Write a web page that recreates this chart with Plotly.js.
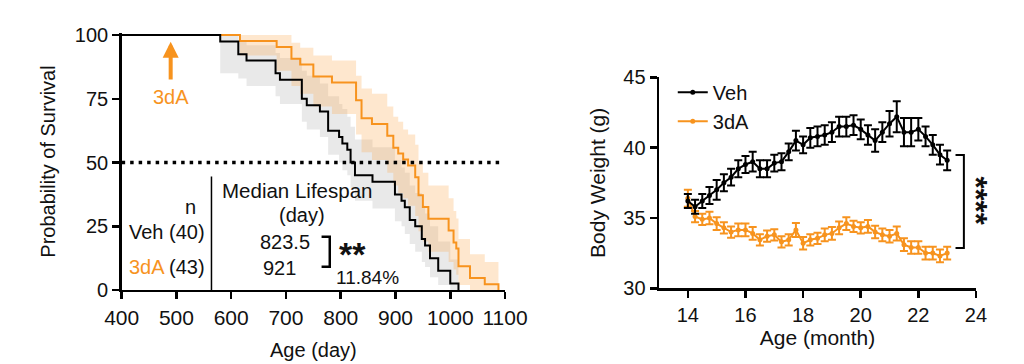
<!DOCTYPE html>
<html>
<head>
<meta charset="utf-8">
<script src="https://cdn.plot.ly/plotly-3.0.1.min.js"></script>
<style>
html,body{margin:0;padding:0;background:#fff;}
#chart{width:1024px;height:364px;}
</style>
</head>
<body>
<div id="chart"></div>
<script>
// ---------- Survival (left panel) ----------
const vehDays = [400,580,613,628,681,689,729,738,762,777,797,803,812,818,826,858,899,911,917,926,936,948,954,963,978,1000,1015];
const vehSurv = [100,97.5,92.5,90,85,82.5,75,72.5,70,62.5,60,57.5,55,50,45,42.5,37.5,35,32.5,27.5,25,20,17.5,12.5,7.5,2.5,0];
const vehLow  = [100,85,83,80,76,73,66,63,60,53,50,47,45,40,35,32,27,25,22,18,15,11,9,5,2,0,0];
const vehHigh = [100,100,98,96,93,91,86,84,81,76,73,71,68,64,59,56,51,48,46,41,38,33,30,25,19,12,0];

const adaDays = [400,616,683,710,726,750,784,828,838,857,885,896,905,914,923,936,942,950,960,997,1006,1011,1015,1036,1063,1088];
const adaSurv = [100,97.7,95.3,90.7,88.4,83.7,81.4,74.4,67.4,65.1,60.5,55.8,53.5,51.2,48.8,44.2,37.2,32.6,27.9,23.3,18.6,16.3,9.3,4.7,2.3,0];
const adaLow  = [100,92,86,80,77,72,69,61,54,51,46,41,38,36,33,29,23,19,15,11,8,6,2,0,0,0];
const adaHigh = [100,100,100,97,95,92,90,84,79,77,72,68,66,63,61,57,50,46,41,36,31,28,20,14,11,0];

const survTicks = [0,25,50,75,100];
const dayTicks = [400,500,600,700,800,900,1000,1100];

// ---------- Body weight (right panel) ----------
const months = [14,14.25,14.5,14.75,15,15.25,15.5,15.75,16,16.25,16.5,16.75,17,17.25,17.5,17.75,18,18.25,18.5,18.75,19,19.25,19.5,19.75,20,20.25,20.5,20.75,21,21.25,21.5,21.75,22,22.25,22.5,22.75,23];
const vehWeight = [36.2,35.8,36.2,36.6,37.0,37.5,37.9,38.5,38.8,39.0,38.5,38.5,38.9,39.0,39.7,40.5,40.2,40.7,40.8,40.9,41.1,41.5,41.5,41.6,41.3,40.9,40.5,41.1,41.7,42.2,41.1,41.1,41.3,40.8,40.2,39.5,39.1];
const vehErr = [0.5,0.5,0.5,0.6,0.7,0.6,0.6,0.6,0.6,0.7,0.6,0.6,0.6,0.6,0.6,0.7,0.6,0.7,0.7,0.7,0.7,0.7,0.7,0.7,0.7,0.7,0.8,0.7,0.9,1.1,1.0,1.0,0.8,0.7,0.7,0.7,0.7];
const adaWeight = [36.4,35.1,34.9,35.0,34.6,34.3,34.0,34.15,34.15,33.9,33.45,33.7,33.8,33.3,33.45,34.15,33.2,33.45,33.55,33.8,33.9,34.3,34.6,34.4,34.3,34.4,34.0,33.8,33.7,33.9,33.1,32.9,32.9,32.5,32.5,32.3,32.5];
const adaErr = [0.6,0.4,0.4,0.45,0.45,0.4,0.4,0.45,0.45,0.45,0.4,0.4,0.4,0.4,0.4,0.5,0.45,0.4,0.4,0.45,0.45,0.45,0.45,0.4,0.4,0.45,0.45,0.45,0.45,0.5,0.45,0.45,0.45,0.45,0.45,0.45,0.45];

const weightTicks = [30,35,40,45];
const monthTicks = [14,16,18,20,22,24];

const ORANGE = '#F7931E';
const FONT = 'Liberation Sans, Arial, Helvetica, sans-serif';
const INK = '#111';

const traces = [
  {x: vehDays, y: vehLow, xaxis:'x', yaxis:'y', mode:'lines', line:{shape:'hv', width:0}, showlegend:false, hoverinfo:'skip'},
  {x: vehDays, y: vehHigh, xaxis:'x', yaxis:'y', mode:'lines', line:{shape:'hv', width:0}, fill:'tonexty', fillcolor:'rgba(120,120,120,0.16)', showlegend:false, hoverinfo:'skip'},
  {x: adaDays, y: adaLow, xaxis:'x', yaxis:'y', mode:'lines', line:{shape:'hv', width:0}, showlegend:false, hoverinfo:'skip'},
  {x: adaDays, y: adaHigh, xaxis:'x', yaxis:'y', mode:'lines', line:{shape:'hv', width:0}, fill:'tonexty', fillcolor:'rgba(250,170,80,0.28)', showlegend:false, hoverinfo:'skip'},
  {x: adaDays, y: adaSurv, xaxis:'x', yaxis:'y', mode:'lines', name:'3dA', line:{shape:'hv', width:2, color:ORANGE}, showlegend:false},
  {x: vehDays, y: vehSurv, xaxis:'x', yaxis:'y', mode:'lines', name:'Veh', line:{shape:'hv', width:2, color:'#000'}, showlegend:false},
  {x: months, y: adaWeight, xaxis:'x2', yaxis:'y2', mode:'lines+markers', name:'3dA',
   line:{color:ORANGE, width:2}, marker:{color:ORANGE, size:5},
   error_y:{type:'data', array:adaErr, visible:true, color:ORANGE, thickness:2, width:4}},
  {x: months, y: vehWeight, xaxis:'x2', yaxis:'y2', mode:'lines+markers', name:'Veh',
   line:{color:'#000', width:2}, marker:{color:'#000', size:5},
   error_y:{type:'data', array:vehErr, visible:true, color:'#000', thickness:2, width:4}}
];

const axisCommon = {
  showgrid:false, zeroline:false, showline:true, linecolor:'#000', linewidth:2.5,
  ticks:'outside', ticklen:7, tickwidth:2.5, tickcolor:'#000',
  tickfont:{family:FONT, size:20, color:INK}, automargin:false, fixedrange:true
};

const layout = {
  width:1024, height:364,
  margin:{l:0, r:0, t:0, b:0},
  paper_bgcolor:'#fff', plot_bgcolor:'rgba(0,0,0,0)',
  font:{family:FONT, color:INK},
  showlegend:true,
  legend:{x:0.657, y:0.80, xanchor:'left', yanchor:'top', bgcolor:'rgba(0,0,0,0)', traceorder:'reversed',
          font:{family:FONT, size:20, color:INK}, itemwidth:30, tracegroupgap:0},
  xaxis: Object.assign({}, axisCommon, {domain:[0.1188,0.4932], range:[400,1100], tickvals:dayTicks, anchor:'y',
          tickfont:{family:FONT, size:21, color:INK},
          title:{text:'Age (day)', font:{family:FONT, size:20, color:INK}, standoff:16}}),
  yaxis: Object.assign({}, axisCommon, {domain:[0.2033,0.9093], range:[0,100.8], tickvals:survTicks, anchor:'x',
          title:{text:'Probability of Survival', font:{family:FONT, size:20, color:INK}, standoff:14}}),
  xaxis2: Object.assign({}, axisCommon, {domain:[0.6436,0.9531], range:[13,24], tickvals:monthTicks, anchor:'y2',
          title:{text:'Age (month)', font:{family:FONT, size:21, color:INK}, standoff:3}}),
  yaxis2: Object.assign({}, axisCommon, {domain:[0.208,0.7876], range:[30,45], tickvals:weightTicks, anchor:'x2',
          title:{text:'Body Weight (g)', font:{family:FONT, size:21, color:INK}, standoff:12}}),
  shapes:[
    {type:'line', xref:'x', yref:'y', x0:400, x1:1096, y0:50, y1:50, line:{color:'#000', width:3.5, dash:'3.5px,5px'}},
    {type:'line', xref:'x', yref:'y', x0:564, x1:564, y0:0, y1:44.5, line:{color:'#000', width:1.5}},
    {type:'path', xref:'x', yref:'y', path:'M765,20.9 L780,20.9 L780,9.1 L765,9.1', line:{color:'#000', width:2.5}},
    {type:'path', xref:'x2', yref:'y2', path:'M23.29,39.48 L23.58,39.48 L23.58,32.87 L23.29,32.87', line:{color:'#000', width:2}}
  ],
  annotations:[
    {xref:'x', yref:'y', x:489.5, y:97.4, ax:489.5, ay:82, axref:'x', ayref:'y', text:'', showarrow:true,
     arrowhead:2, arrowsize:0.8, arrowwidth:4, arrowcolor:ORANGE},
    {xref:'x', yref:'y', x:491, y:75.8, text:'3dA', showarrow:false, font:{family:FONT, size:20, color:ORANGE}},
    {xref:'x', yref:'y', x:526, y:32.7, text:'n', showarrow:false, font:{family:FONT, size:20, color:INK}},
    {xref:'x', yref:'y', x:483.6, y:22.9, text:'Veh (40)', showarrow:false, font:{family:FONT, size:20, color:INK}},
    {xref:'x', yref:'y', x:483.6, y:9.1, text:'<span style="color:'+ORANGE+'">3dA</span> (43)', showarrow:false, font:{family:FONT, size:20, color:INK}},
    {xref:'x', yref:'y', x:721, y:39.2, text:'Median Lifespan', showarrow:false, font:{family:FONT, size:20.5, color:INK}},
    {xref:'x', yref:'y', x:728.7, y:29.4, text:'(day)', showarrow:false, font:{family:FONT, size:20, color:INK}},
    {xref:'x', yref:'y', x:698, y:18.9, text:'823.5', showarrow:false, font:{family:FONT, size:20, color:INK}},
    {xref:'x', yref:'y', x:689, y:8.5, text:'921', showarrow:false, font:{family:FONT, size:20, color:INK}},
    {xref:'x', yref:'y', x:821.5, y:14.2, text:'<b>**</b>', showarrow:false, font:{family:FONT, size:34, color:INK}},
    {xref:'x', yref:'y', x:848.8, y:5.0, text:'11.84%', showarrow:false, font:{family:FONT, size:19, color:INK}},
    {xref:'paper', yref:'paper', x:0.972, y:0.447, text:'<b>****</b>', textangle:90, showarrow:false, font:{family:FONT, size:31, color:INK}}
  ]
};

Plotly.newPlot('chart', traces, layout, {displayModeBar:false, staticPlot:true});
</script>
</body>
</html>
